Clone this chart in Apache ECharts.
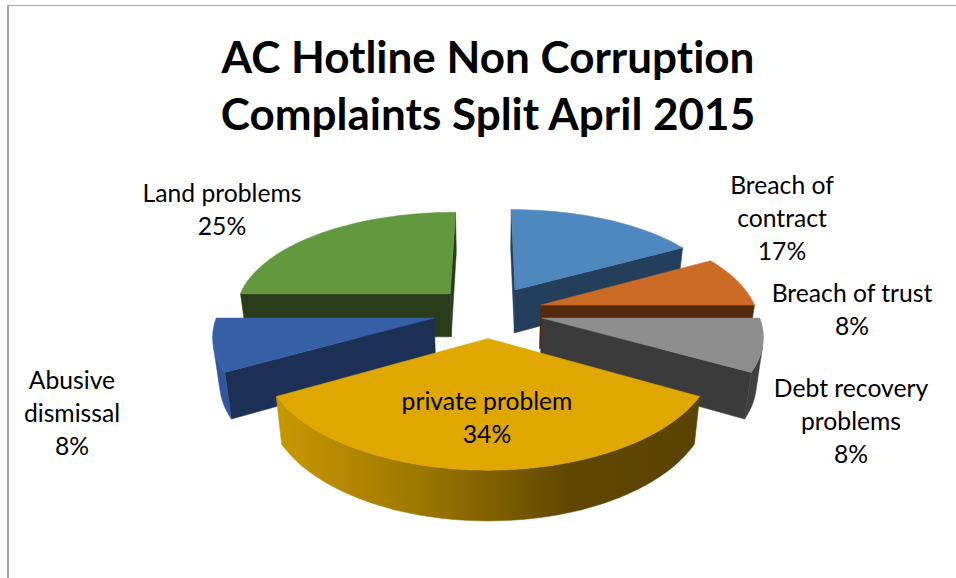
<!DOCTYPE html>
<html><head><meta charset="utf-8">
<style>html,body{margin:0;padding:0;background:#fff}#c{width:956px;height:578px}text{font-variant-ligatures:none}</style>
<script src="https://cdn.jsdelivr.net/npm/echarts@6/dist/echarts.min.js"></script>
</head><body><div id="c"></div>
<script>
const titleLines = ['AC Hotline Non Corruption', 'Complaints Split April 2015'];
const categories = ['Breach of contract', 'Breach of trust', 'Debt recovery problems', 'private problem', 'Abusive dismissal', 'Land problems'];
const values = [17, 8, 8, 34, 8, 25];

const wrappedNames = ['Breach of\ncontract', 'Breach of trust', 'Debt recovery\nproblems', 'private problem', 'Abusive\ndismissal', 'Land problems'];
const labelCentres = [[782, 217], [852, 309], [851, 420], [487, 417], [72, 412], [222, 209]];
const drawOrder = [0, 5, 1, 2, 4, 3];
const goldWall = {type:'linear', global:true, x:276, y:0, x2:698, y2:0, colorStops:[
  {offset:0, color:'#C99800'},{offset:.35, color:'#9C7600'},{offset:.7, color:'#5F4700'},{offset:1, color:'#5A4300'}]};
const palette = [
  {top:'#4F88BE', wall:'#243F5C', arc:'#243F5C'},
  {top:'#CC6B26', wall:'#55290D', arc:'#55290D'},
  {top:'#8E8E8E', wall:'#3B3B3B', arc:'#404040'},
  {top:'#DFA700', wall:'#5A4300', arc:goldWall},
  {top:'#3660A8', wall:'#1D3055', arc:'#31579A'},
  {top:'#62993E', wall:'#2A3C19', arc:'#2A3C19'}
];

// Perspective model of the tilted pie plate
const CX = 488, CY = 311.5, HORIZON = -452, DIST = 1645, R = 216, EXPLODE = 55, DEPTH = 44, STEP = 2, BOW = 0.00008, TILT = 0.008;
function project(x, y, lower) {
  const f = DIST / (DIST - y);
  const fx = Math.pow(f, y < 0 ? 1.25 : 1.1);
  return [CX + x * fx * (lower ? 0.975 : 1),
    HORIZON + (CY - HORIZON) * f + BOW * y * y + TILT * y + (lower ? DEPTH * Math.pow(f, 0.8) : 0)];
}
const total = values.reduce((a, b) => a + b, 0);
function sliceAngles(i) {
  const before = values.slice(0, i).reduce((a, b) => a + b, 0);
  return [before / total * 360, (before + values[i]) / total * 360];
}
function rim(a0, a1) { // world points along the outer arc
  const pts = [];
  const n = Math.max(2, Math.ceil((a1 - a0) / STEP));
  for (let k = 0; k <= n; k++) {
    const t = (a0 + (a1 - a0) * k / n) * Math.PI / 180;
    pts.push([Math.sin(t) * R, -Math.cos(t) * R]);
  }
  return pts;
}
function area(p) {
  let s = 0;
  p.forEach((q, j) => { const r = p[(j + 1) % p.length]; s += q[0] * r[1] - r[0] * q[1]; });
  return s / 2;
}
function poly(points, fill) {
  return {type:'polygon', shape:{points}, style:{fill, stroke:fill, lineWidth:.5}};
}
function renderSlice(params, api) {
  const i = api.value(1);
  const [a0, a1] = sliceAngles(i);
  const mid = (a0 + a1) / 2 * Math.PI / 180;
  const ox = Math.sin(mid) * EXPLODE, oy = -Math.cos(mid) * EXPLODE;
  const w = rim(a0, a1).map(p => [p[0] + ox, p[1] + oy]);
  const up = w.map(p => project(p[0], p[1], false));
  const down = w.map(p => project(p[0], p[1], true));
  const apexUp = project(ox, oy, false), apexDown = project(ox, oy, true);
  const c = palette[i], children = [];
  // radial faces that turn toward the viewer
  const f0 = [apexUp, up[0], down[0], apexDown];
  if (area(f0) < 0) children.push(poly(f0, c.wall));
  const n = up.length - 1;
  const f1 = [apexUp, up[n], down[n], apexDown];
  if (area(f1) > 0) children.push(poly(f1, c.wall));
  // visible part of the outer wall
  let first = -1, last = -1;
  for (let k = 0; k < n; k++) {
    if (area([up[k], up[k + 1], down[k + 1], down[k]]) < 0) { if (first < 0) first = k; last = k + 1; }
  }
  if (first >= 0) children.push(poly(up.slice(first, last + 1).concat(down.slice(first, last + 1).reverse()), c.arc));
  children.push(poly([apexUp].concat(up), c.top));
  return {type:'group', children};
}
function renderLabel(params, api) {
  const i = api.value(1);
  const p = labelCentres[i];
  return {type:'text', x:p[0], y:p[1], z2:50, style:{
    text: wrappedNames[i] + '\n' + values[i] + '%',
    fill:'#000', font:'24.7px Lato', lineHeight:33, align:'center', verticalAlign:'middle'}};
}
const chart = echarts.init(document.getElementById('c'), null, {renderer:'svg'});
chart.setOption({
  animation:false,
  backgroundColor:'#fff',
  title:{text:titleLines.join('\n'), left:483, top:22, textAlign:'center',
    textStyle:{fontFamily:'Lato', fontWeight:'bold', fontSize:44, lineHeight:57, color:'#000'}},
  graphic:[
    {type:'rect', shape:{x:7, y:5, width:2, height:573}, style:{fill:'#A6A6A6'}},
    {type:'rect', shape:{x:7, y:5, width:949, height:1}, style:{fill:'#A6A6A6'}}
  ],
  series:[
    {type:'custom', coordinateSystem:'none', renderItem:renderSlice, silent:true, clip:false,
      encode:{}, data:drawOrder.map(i => [values[i], i])},
    {type:'custom', coordinateSystem:'none', renderItem:renderLabel, silent:true, z:5,
      encode:{}, data:categories.map((n, i) => [values[i], i])}
  ]
});
</script></body></html>
